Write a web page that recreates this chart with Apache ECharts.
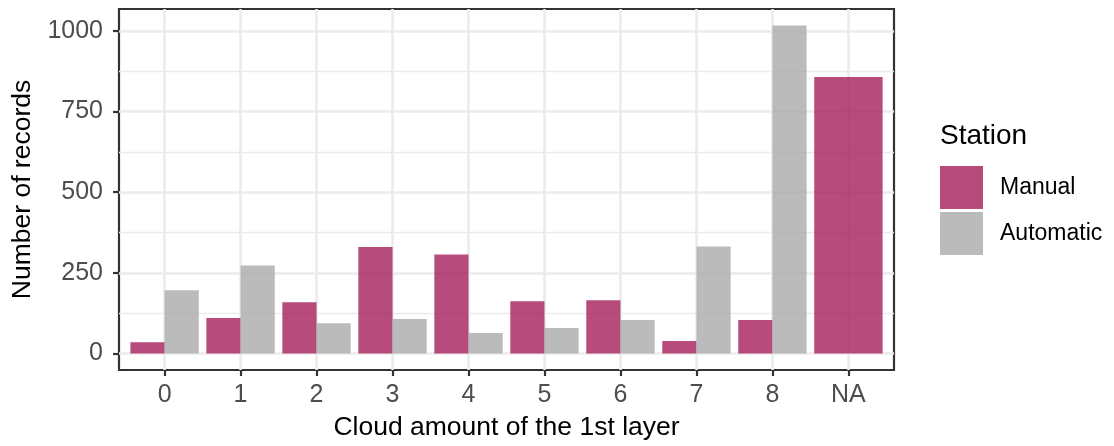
<!DOCTYPE html>
<html>
<head>
<meta charset="utf-8">
<script src="https://cdn.jsdelivr.net/npm/echarts@6/dist/echarts.min.js"></script>
<style>
html,body{margin:0;padding:0;background:#fff;}
#chart{width:1114px;height:446px;}
</style>
</head>
<body>
<div id="chart"></div>
<script>
const categories = ['0','1','2','3','4','5','6','7','8','NA'];
const manualValues = [35, 110, 159, 330, 307, 162, 165, 39, 104];
const automaticValues = [196, 273, 94, 107, 64, 79, 104, 332, 1017];
const manualNAValue = 857;
const yTicks = [0, 250, 500, 750, 1000];
const yMinorTicks = [125, 375, 625, 875];

const FONT = '"Liberation Sans", Arial, sans-serif';
const gridLeft = 119, gridRight = 1114 - 894, gridTop = 9, gridBottom = 446 - 370;
const gridW = 1114 - gridLeft - gridRight;
const xMin = -0.6, xMax = categories.length - 1 + 0.6;
const unitPx = gridW / (xMax - xMin);
const yMax = 1017 * 1.05, yMin = -1017 * 0.05;

const manualData = manualValues.map((v, i) => [i, v]);
const autoData = automaticValues.map((v, i) => [i, v]);
const naData = [[categories.length - 1, manualNAValue]];

const manualColor = 'rgba(164,30,91,0.8)';
const autoColor = 'rgba(170,170,170,0.8)';
const catIdx = categories.map((c, i) => i);

const chart = echarts.init(document.getElementById('chart'), null, {renderer: 'canvas'});
chart.setOption({
  animation: false,
  backgroundColor: '#ffffff',
  textStyle: {fontFamily: FONT},
  title: {
    text: 'Station', left: 940, top: 122, padding: 0,
    textStyle: {fontFamily: FONT, fontSize: 28, fontWeight: 'normal', color: '#000'}
  },
  legend: {
    data: ['Manual', 'Automatic'], orient: 'vertical', left: 940, top: 166, padding: 0,
    itemWidth: 43, itemHeight: 43, itemGap: 3, icon: 'rect',
    textStyle: {fontFamily: FONT, fontSize: 23, color: '#000', padding: [0, 0, 0, 12]}
  },
  grid: {
    left: gridLeft, right: gridRight, top: gridTop, bottom: gridBottom,
    show: true, borderColor: '#333333', borderWidth: 2.2, backgroundColor: 'transparent'
  },
  xAxis: [{
    type: 'value', min: xMin, max: xMax, position: 'bottom',
    name: 'Cloud amount of the 1st layer', nameLocation: 'middle', nameGap: 44,
    nameTextStyle: {fontFamily: FONT, fontSize: 26.5, color: '#000'},
    axisLine: {show: false, onZero: false},
    axisTick: {show: true, length: 6, customValues: catIdx, lineStyle: {color: '#333333', width: 2.2}},
    axisLabel: {customValues: catIdx, margin: 13, fontFamily: FONT, fontSize: 25, color: '#4d4d4d',
      formatter: v => categories[Math.round(v)]},
    splitLine: {show: true, lineStyle: {color: '#ebebeb', width: 2.6}}
  }, {
    type: 'value', min: xMin, max: xMax, show: false, axisLine: {onZero: false}
  }],
  yAxis: [{
    type: 'value', min: yMin, max: yMax, position: 'left',
    name: 'Number of records', nameLocation: 'middle', nameGap: 80,
    nameTextStyle: {fontFamily: FONT, fontSize: 26.5, color: '#000'},
    axisLine: {show: false, onZero: false},
    axisTick: {show: true, length: 6, customValues: yTicks, lineStyle: {color: '#333333', width: 2.2}},
    axisLabel: {customValues: yTicks, margin: 16, fontFamily: FONT, fontSize: 25, color: '#4d4d4d',
      formatter: v => String(Math.round(v))},
    splitLine: {show: true, lineStyle: {color: '#ebebeb', width: 2.6}}
  }, {
    type: 'value', min: yMin, max: yMax, position: 'left',
    axisLine: {show: false, onZero: false}, axisLabel: {show: false},
    axisTick: {show: false, customValues: yMinorTicks},
    splitLine: {show: true, lineStyle: {color: '#ebebeb', width: 1.3}}
  }],
  series: [{
    name: 'Manual', type: 'bar', xAxisIndex: 0, yAxisIndex: 0, data: manualData,
    barWidth: unitPx * 0.45, barGap: '0%', itemStyle: {color: manualColor}
  }, {
    name: 'Automatic', type: 'bar', xAxisIndex: 0, yAxisIndex: 0, data: autoData,
    barWidth: unitPx * 0.45, barGap: '0%', itemStyle: {color: autoColor}
  }, {
    name: 'Manual', type: 'bar', xAxisIndex: 1, yAxisIndex: 0, data: naData,
    barWidth: unitPx * 0.9, itemStyle: {color: manualColor}
  }]
});
</script>
</body>
</html>
